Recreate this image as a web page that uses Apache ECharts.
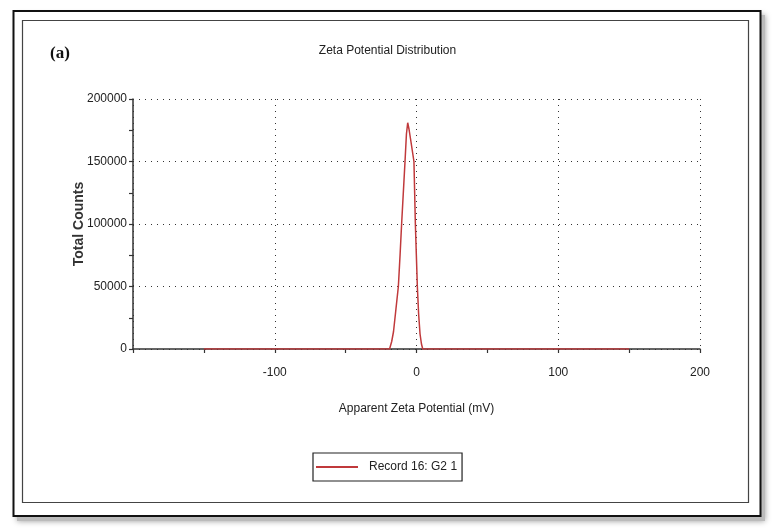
<!DOCTYPE html>
<html>
<head>
<meta charset="utf-8">
<script src="https://cdn.jsdelivr.net/npm/echarts@6/dist/echarts.min.js"></script>
<style>html,body{margin:0;padding:0;background:#fff;}#c{width:775px;height:532px;}</style>
</head>
<body>
<div id="c"></div>
<script>
var potentials = [-150, -19, -17.5, -16.2, -14.5, -12.8, -11.6, -10.5, -9.3, -8.1, -7.1, -6.2, -5.3, -4.2, -3, -1.8, -1.3, -0.8, -0.1, 0.6, 1.5, 2.5, 3.5, 4.4, 150];
var counts = [0, 0, 6000, 14000, 32000, 50000, 75000, 100000, 125000, 150000, 172000, 181000, 176000, 168000, 159000, 150000, 125000, 100000, 75000, 50000, 28000, 12000, 4000, 0, 0];
var seriesName = 'Record 16: G2 1';
var xTickLabels = [-100, 0, 100, 200];

var data = potentials.map(function (p, i) { return [p, counts[i]]; });
var font = 'Liberation Sans, Arial, sans-serif';
var chart = echarts.init(document.getElementById('c'), null, {renderer: 'canvas'});
chart.setOption({
  backgroundColor: '#fff',
  animation: false,
  graphic: [
    {type: 'rect', shape: {x: 17, y: 15, width: 748, height: 506}, style: {fill: '#bbb', shadowBlur: 6, shadowColor: 'rgba(0,0,0,0.4)'}, z: -10},
    {type: 'rect', shape: {x: 13.5, y: 11, width: 747, height: 505}, style: {fill: '#fff', stroke: '#111', lineWidth: 2}, z: -9},
    {type: 'rect', shape: {x: 22.5, y: 20.5, width: 726, height: 482}, style: {fill: '#fff', stroke: '#444', lineWidth: 1.2}, z: -8},
    {type: 'text', left: 50, top: 45, style: {text: '(a)', font: 'bold 17px "Liberation Serif", "DejaVu Serif", serif', fill: '#111'}}
  ],
  title: {
    text: 'Zeta Potential Distribution',
    left: 'center', top: 40,
    textStyle: {fontFamily: font, fontSize: 12, fontWeight: 'normal', color: '#222'}
  },
  legend: {
    data: [seriesName],
    left: 313, top: 453,
    padding: [8, 5, 8, 3],
    borderColor: '#222', borderWidth: 1.2,
    icon: 'rect', itemWidth: 42, itemHeight: 2, itemGap: 10,
    textStyle: {fontFamily: font, fontSize: 12, color: '#222', padding: [0, 0, 0, 6]}
  },
  grid: {left: 133, right: 75, top: 99, bottom: 183, containLabel: false},
  xAxis: {
    type: 'value', min: -200, max: 200, interval: 100,
    name: 'Apparent Zeta Potential (mV)', nameLocation: 'middle', nameGap: 54,
    nameTextStyle: {fontFamily: font, fontSize: 12, color: '#222'},
    axisLine: {show: true, onZero: false, lineStyle: {color: '#333', width: 1.5}},
    axisTick: {show: true, length: 4, lineStyle: {color: '#333', width: 1.2}},
    minorTick: {show: true, splitNumber: 2, length: 4, lineStyle: {color: '#333', width: 1.2}},
    axisLabel: {
      margin: 18, fontFamily: font, fontSize: 12, color: '#222',
      formatter: function (v) { return xTickLabels.indexOf(v) >= 0 ? String(v) : ''; }
    },
    splitLine: {show: true, lineStyle: {color: '#333', type: [1, 5], width: 1}}
  },
  yAxis: {
    type: 'value', min: 0, max: 200000, interval: 50000,
    name: 'Total Counts', nameLocation: 'middle', nameGap: 47, nameRotate: 90,
    nameMoveOverlap: false,
    nameTextStyle: {fontFamily: font, fontSize: 14, fontWeight: 'bold', color: '#333'},
    axisLine: {show: true, onZero: false, lineStyle: {color: '#333', width: 1.5}},
    axisTick: {show: true, length: 4, lineStyle: {color: '#333', width: 1.2}},
    minorTick: {show: true, splitNumber: 2, length: 4, lineStyle: {color: '#333', width: 1.2}},
    axisLabel: {margin: 6, fontFamily: font, fontSize: 12, color: '#222', formatter: function (v) { return String(v); }},
    splitLine: {show: true, lineStyle: {color: '#333', type: [1, 5], width: 1}}
  },
  series: [{
    name: seriesName,
    type: 'line',
    data: data,
    symbol: 'none',
    lineStyle: {color: '#c0393b', width: 1.5},
    itemStyle: {color: '#c0393b'},
    z: 3
  }]
});
</script>
</body>
</html>
